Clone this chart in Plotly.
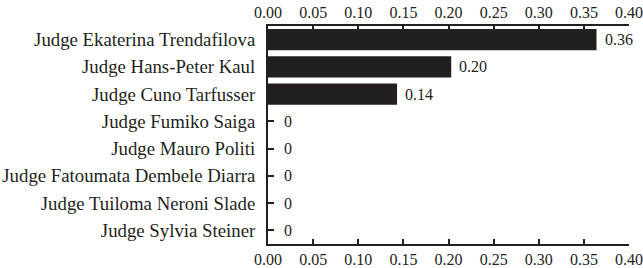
import plotly.graph_objects as go

judges = [
    "Judge Ekaterina Trendafilova",
    "Judge Hans-Peter Kaul",
    "Judge Cuno Tarfusser",
    "Judge Fumiko Saiga",
    "Judge Mauro Politi",
    "Judge Fatoumata Dembele Diarra",
    "Judge Tuiloma Neroni Slade",
    "Judge Sylvia Steiner",
]
values = [0.364, 0.203, 0.143, 0, 0, 0, 0, 0]
value_labels = ["0.36", "0.20", "0.14", "0", "0", "0", "0", "0"]
tick_vals = [0.00, 0.05, 0.10, 0.15, 0.20, 0.25, 0.30, 0.35, 0.40]
tick_text = ["0.00", "0.05", "0.10", "0.15", "0.20", "0.25", "0.30", "0.35", "0.40"]

INK = "#231f20"
FONT = "Liberation Serif"

fig = go.Figure()
fig.add_trace(go.Bar(
    x=values, y=judges, orientation="h",
    marker=dict(color=INK, line=dict(width=0)),
    width=0.78, showlegend=False, hoverinfo="x+y",
))
# invisible trace to activate the top axis
fig.add_trace(go.Scatter(
    x=[0, 0.4], y=[judges[0], judges[0]], xaxis="x2", mode="markers",
    marker=dict(opacity=0), showlegend=False, hoverinfo="skip",
))

annotations = []
for j, v, t in zip(judges, values, value_labels):
    annotations.append(dict(
        x=v, y=j, xref="x", yref="y", text=t, showarrow=False,
        xanchor="left", yanchor="middle", xshift=14 if v == 0 else 6,
        font=dict(family=FONT, size=16, color=INK),
    ))

axis_common = dict(
    range=[0, 0.4], tickvals=tick_vals, ticktext=tick_text,
    showgrid=False, zeroline=False, showline=True, linecolor=INK, linewidth=2,
    ticks="inside", ticklen=5, tickwidth=2, tickcolor=INK,
    tickfont=dict(family=FONT, size=16, color=INK),
)

fig.update_layout(
    width=643, height=268,
    margin=dict(l=268, r=14, t=26, b=24, autoexpand=False),
    paper_bgcolor="white", plot_bgcolor="white",
    font=dict(family=FONT, color=INK),
    xaxis=dict(side="bottom", **axis_common),
    xaxis2=dict(side="top", overlaying="x", matches="x", **axis_common),
    yaxis=dict(
        categoryorder="array", categoryarray=judges[::-1],
        range=[-0.5, 7.5],
        showgrid=False, zeroline=False, showline=True, linecolor=INK, linewidth=2,
        ticks="inside", ticklen=6, tickwidth=2, tickcolor=INK,
        tickfont=dict(family=FONT, size=18.8, color=INK), ticklabelstandoff=7,
    ),
    annotations=annotations,
    bargap=0.22,
)

fig.write_html("out.html", config={"displayModeBar": False},
               post_script="document.body.style.margin='0';")
